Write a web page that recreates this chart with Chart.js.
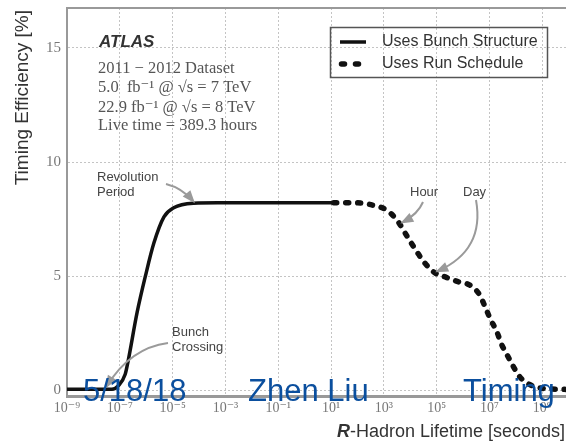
<!DOCTYPE html>
<html><head><meta charset="utf-8">
<script src="https://cdn.jsdelivr.net/npm/chart.js@4"></script>
<style>html,body{margin:0;padding:0;background:#fff;overflow:hidden}#wrap{width:566px;height:446px;position:relative}</style>
</head><body><div id="wrap"><canvas id="c" width="566" height="446"></canvas></div>
<script>
// R-Hadron lifetime [s] and timing efficiency [%]
const bunchLifetime = [1e-9, 5e-8, 8.9e-8, 1.6e-7, 2e-7, 4.5e-7, 9.3e-7, 1.95e-6, 4.7e-6, 1.1e-5, 6.3e-5, 5e-4, 12.6];
const bunchEff      = [0.05, 0.05, 0.2, 0.7, 1.2, 3.4, 5.0, 6.45, 7.6, 8.0, 8.2, 8.22, 8.22];
const runLifetime = [12.6, 50, 160, 400, 1260, 3200, 1e4, 3.6e4, 8.5e4, 2.3e5, 6e5, 1.9e6, 4.2e6, 7.1e6, 1.1e7, 1.86e7, 2.9e7, 4.9e7, 8.1e7, 1.5e8, 4.4e8, 1.4e9, 7.9e9];
const runEff      = [8.22, 8.22, 8.2, 8.1, 7.9, 7.44, 6.52, 5.57, 5.15, 4.95, 4.77, 4.59, 4.19, 3.61, 3.1, 2.59, 2.0, 1.5, 1.03, 0.55, 0.19, 0.07, 0.04];
const xTickValues = [1e-9, 1e-7, 1e-5, 1e-3, 1e-1, 1e1, 1e3, 1e5, 1e7, 1e9];
const xTickLabels = ['10\u207B\u2079', '10\u207B\u2077', '10\u207B\u2075', '10\u207B\u00B3', '10\u207B\u00B9', '10\u00B9', '10\u00B3', '10\u2075', '10\u2077', '10\u2079'];
const yTickValues = [0, 5, 10, 15];
const seriesNames = ['Uses Bunch Structure', 'Uses Run Schedule'];
const infoLines = ['2011 \u2212 2012 Dataset', '5.0  fb\u207B\u00B9 @ \u221As = 7 TeV', '22.9 fb\u207B\u00B9 @ \u221As = 8 TeV', 'Live time = 389.3 hours'];
const footer = ['5/18/18', 'Zhen Liu', 'Timing'];

const toXY = (xs, ys) => xs.map((x, i) => ({x, y: ys[i]}));

function arrow(ctx, x0, y0, cx, cy, x1, y1) {
  ctx.save();
  ctx.strokeStyle = '#9a9a9a'; ctx.fillStyle = '#9a9a9a'; ctx.lineWidth = 2;
  ctx.beginPath(); ctx.moveTo(x0, y0); ctx.quadraticCurveTo(cx, cy, x1, y1); ctx.stroke();
  const a = Math.atan2(y1 - cy, x1 - cx);
  const L = 10, W = 5;
  ctx.beginPath();
  ctx.moveTo(x1 + Math.cos(a) * 3, y1 + Math.sin(a) * 3);
  ctx.lineTo(x1 - Math.cos(a) * L - Math.sin(a) * W, y1 - Math.sin(a) * L + Math.cos(a) * W);
  ctx.lineTo(x1 - Math.cos(a) * L + Math.sin(a) * W, y1 - Math.sin(a) * L - Math.cos(a) * W);
  ctx.closePath(); ctx.fill();
  ctx.restore();
}

const decor = {
  id: 'decor',
  afterDraw(chart) {
    const ctx = chart.ctx, a = chart.chartArea;
    ctx.save();
    // top frame
    ctx.strokeStyle = '#999'; ctx.lineWidth = 2;
    ctx.beginPath(); ctx.moveTo(a.left - 1, a.top); ctx.lineTo(a.right, a.top); ctx.stroke();
    // ATLAS block
    ctx.fillStyle = '#333';
    ctx.font = 'italic bold 17px "Liberation Sans", Arial, sans-serif';
    ctx.textBaseline = 'alphabetic'; ctx.textAlign = 'left';
    ctx.fillText('ATLAS', 99, 47);
    ctx.fillStyle = '#555';
    ctx.font = '16.5px "Liberation Serif", "DejaVu Serif", serif';
    const ys = [73, 92, 112, 130];
    infoLines.forEach((t, i) => ctx.fillText(t, 98, ys[i]));
    // legend
    ctx.strokeStyle = '#555'; ctx.lineWidth = 1.5;
    ctx.strokeRect(330.5, 27.5, 217, 50);
    ctx.strokeStyle = '#111'; ctx.lineWidth = 3.5; ctx.lineCap = 'butt';
    ctx.beginPath(); ctx.moveTo(340, 42); ctx.lineTo(366, 42); ctx.stroke();
    ctx.lineWidth = 5.5; ctx.lineCap = 'round';
    [343, 357].forEach(x => { ctx.beginPath(); ctx.moveTo(x - 1.5, 64); ctx.lineTo(x + 1.5, 64); ctx.stroke(); });
    ctx.fillStyle = '#333'; ctx.textBaseline = 'middle';
    ctx.font = '16px "Liberation Sans", Arial, sans-serif';
    ctx.fillText(seriesNames[0], 382, 42);
    ctx.fillText(seriesNames[1], 382, 64);
    // annotations
    ctx.fillStyle = '#444';
    ctx.font = '13px "Liberation Sans", Arial, sans-serif';
    ctx.textBaseline = 'middle';
    ctx.fillText('Revolution', 97, 177);
    ctx.fillText('Period', 97, 192);
    ctx.fillText('Bunch', 172, 332);
    ctx.fillText('Crossing', 172, 347);
    ctx.fillText('Hour', 410, 192);
    ctx.fillText('Day', 463, 192);
    ctx.restore();
    arrow(ctx, 166, 184, 182, 188, 193, 201);
    arrow(ctx, 168, 343, 130, 348, 107, 386);
    arrow(ctx, 423, 202, 418, 214, 403, 222);
    arrow(ctx, 476, 200, 485, 250, 438, 271);
    ctx.save();
    // axis titles
    ctx.fillStyle = '#333';
    ctx.font = '19px "Liberation Sans", Arial, sans-serif';
    ctx.textBaseline = 'alphabetic';
    ctx.save();
    ctx.translate(28, 10); ctx.rotate(-Math.PI / 2);
    ctx.textAlign = 'right';
    ctx.fillText('Timing Efficiency [%]', 0, 0);
    ctx.restore();
    ctx.font = '18px "Liberation Sans", Arial, sans-serif';
    const rest = '-Hadron Lifetime [seconds]';
    ctx.textAlign = 'left';
    const wRest = ctx.measureText(rest).width;
    ctx.font = 'italic bold 18px "Liberation Sans", Arial, sans-serif';
    const wR = ctx.measureText('R').width;
    const x0 = 565 - wRest - wR;
    ctx.fillText('R', x0, 437);
    ctx.font = '18px "Liberation Sans", Arial, sans-serif';
    ctx.fillText(rest, x0 + wR, 437);
    // footer overlay
    ctx.fillStyle = '#0b4f9e';
    ctx.font = '31px "Liberation Sans", Arial, sans-serif';
    ctx.fillText(footer[0], 83, 401);
    ctx.fillText(footer[1], 248, 401);
    ctx.fillText(footer[2], 463, 401);
    ctx.restore();
  }
};

new Chart(document.getElementById('c'), {
  type: 'scatter',
  data: {
    datasets: [
      { label: seriesNames[0], data: toXY(bunchLifetime, bunchEff), showLine: true, borderColor: '#111', borderWidth: 3.5,
        pointRadius: 0, cubicInterpolationMode: 'monotone', fill: false },
      { label: seriesNames[1], data: toXY(runLifetime, runEff), showLine: true, borderColor: '#111', borderWidth: 5.5,
        borderDash: [3, 9], borderCapStyle: 'round', pointRadius: 0, cubicInterpolationMode: 'monotone', fill: false }
    ]
  },
  options: {
    responsive: false, animation: false, devicePixelRatio: 1,
    layout: { padding: { top: 8, left: 0, right: 0, bottom: 0 } },
    plugins: { legend: { display: false }, tooltip: { enabled: false } },
    scales: {
      x: {
        type: 'logarithmic', min: 1e-9, max: 7.9e9,
        afterBuildTicks: s => { s.ticks = xTickValues.map(v => ({ value: v })); },
        afterFit: s => { s.height = 50; s.paddingLeft = 0; s.paddingRight = 0; },
        ticks: { callback: (v, i) => xTickLabels[i], autoSkip: false, maxRotation: 0, padding: 4, color: '#777',
          font: { family: '"Liberation Serif", "DejaVu Serif", serif', size: 14 } },
        grid: { color: '#c4c4c4', lineWidth: 1, drawTicks: false },
        border: { display: true, color: '#999', width: 3, dash: [2, 2] }
      },
      y: {
        min: -0.25, max: 16.75,
        afterBuildTicks: s => { s.ticks = yTickValues.map(v => ({ value: v })); },
        afterFit: s => { s.width = 67; s.paddingTop = 0; s.paddingBottom = 0; },
        ticks: { padding: 6, color: '#777', font: { family: '"Liberation Serif", "DejaVu Serif", serif', size: 15 } },
        grid: { color: '#c4c4c4', lineWidth: 1, drawTicks: false },
        border: { display: true, color: '#999', width: 2, dash: [2, 2] }
      }
    }
  },
  plugins: [decor]
});
</script>
</body></html>
